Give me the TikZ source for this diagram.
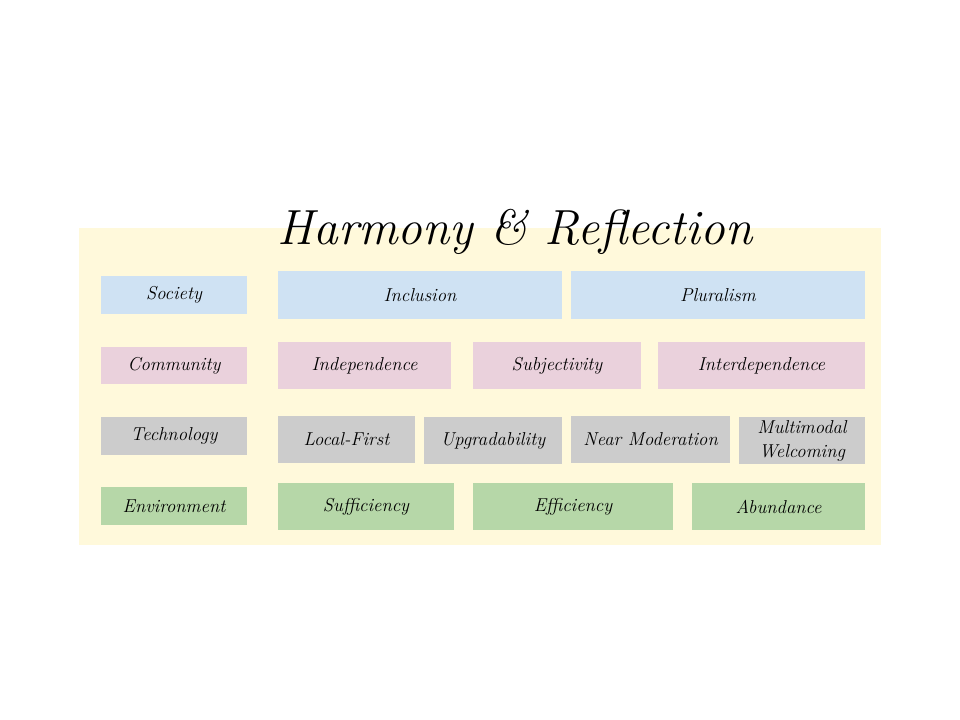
\documentclass[tikz,border=0pt]{standalone}
\definecolor{bgyellow}{HTML}{FFF9DB}
\definecolor{cblue}{HTML}{CFE2F3}
\definecolor{cpink}{HTML}{EAD1DC}
\definecolor{cgray}{HTML}{CCCCCC}
\definecolor{cgreen}{HTML}{B6D7A8}
\tikzset{
  cellbox/.style={fill=#1, draw=none, inner sep=0pt, align=center,
    font=\itshape\fontsize{14}{18}\selectfont, text=black},
  titletext/.style={font=\itshape\fontsize{37}{42}\selectfont, text=black, inner sep=0pt}
}
\newcommand\mycell[7]{\node[cellbox=#6, minimum width={(#4-#2)*0.75pt}, minimum height={(#5-#3)*0.75pt}] (#1) at ({(#2+#4)/2},{-(#3+#5)/2}) {#7};}
\begin{document}
\begin{tikzpicture}[x=0.75pt,y=0.75pt]
\useasboundingbox (0,0) rectangle (960,-720);
\fill[bgyellow] (79,-228) rectangle (881,-545);
\node[titletext, anchor=base] (title) at (515,-245) {Harmony \& Reflection};
% Society
\mycell{society}{101}{276}{247}{314}{cblue}{Society}
\mycell{inclusion}{278}{271}{562}{319}{cblue}{Inclusion}
\mycell{pluralism}{571}{271}{865}{319}{cblue}{Pluralism}
% Community
\mycell{community}{101}{347}{247}{384}{cpink}{Community}
\mycell{independence}{278}{342}{451}{389}{cpink}{Independence}
\mycell{subjectivity}{473}{342}{641}{389}{cpink}{Subjectivity}
\mycell{interdependence}{658}{342}{865}{389}{cpink}{Interdependence}
% Technology
\mycell{technology}{101}{417}{247}{455}{cgray}{Technology}
\mycell{localfirst}{278}{416}{415}{463}{cgray}{Local-First}
\mycell{upgradability}{424}{417}{562}{464}{cgray}{Upgradability}
\mycell{nearmod}{571}{416}{730}{463}{cgray}{Near Moderation}
\mycell{multimodal}{739}{417}{865}{464}{cgray}{Multimodal\\Welcoming}
% Environment
\mycell{environment}{101}{487}{247}{525}{cgreen}{Environment}
\mycell{sufficiency}{278}{483}{454}{530}{cgreen}{Sufficiency}
\mycell{efficiency}{473}{483}{673}{530}{cgreen}{Efficiency}
\mycell{abundance}{692}{483}{865}{530}{cgreen}{Abundance}
\end{tikzpicture}
\end{document}
